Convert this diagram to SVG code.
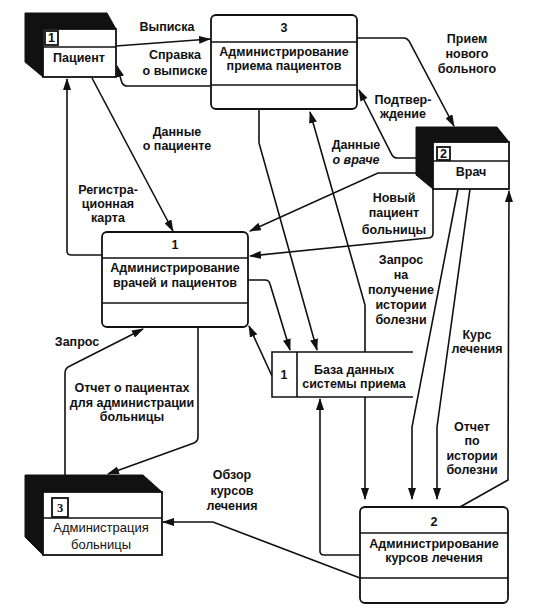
<svg xmlns="http://www.w3.org/2000/svg" width="533" height="615" viewBox="0 0 533 615">
<defs>
<marker id="arr" markerUnits="userSpaceOnUse" markerWidth="12" markerHeight="8" refX="11" refY="4" orient="auto">
<path d="M0,0 L12,4 L0,8 Z" fill="#111"/>
</marker>
<style>
.box{fill:#fff;stroke:#111;stroke-width:1.8}
.sep{stroke:#111;stroke-width:1.6;fill:none}
.shade{fill:#111;stroke:#111;stroke-width:1}
.c{fill:none;stroke:#111;stroke-width:1.6;marker-end:url(#arr)}
text{font-family:"Liberation Sans",Arial,sans-serif;font-size:12.5px;font-weight:bold;fill:#111;text-anchor:middle}
.it{font-style:italic}
.reg{font-weight:normal;font-size:13px}
.num{font-family:"Liberation Serif","Times New Roman",serif}
</style>
</defs>
<rect width="533" height="615" fill="#fff"/>

<g id="connectors">
<path class="c" d="M116,46 L210,39"/>
<path class="c" d="M211,86 L127,86 Q124,86 122,83 L117,66"/>
<path class="c" d="M92,78 L173,231"/>
<path class="c" d="M102,255 L71,255 Q67,255 67,251 L67,79"/>
<path class="c" d="M357,38 L404,38 Q407,38 409,41 L454,126"/>
<path class="c" d="M416,158 L397,158 Q394,158 392,155 L359,90"/>
<path class="c" d="M365,352 L365,305 L310,112"/>
<path class="c" d="M365,397 L365,499"/>
<path class="c" d="M259,109 L259,143 L317,350"/>
<path class="c" d="M248,280 L265,280 Q269,280 270,284 L290,350"/>
<path class="c" d="M272,376 L249,326"/>
<path class="c" d="M416,173 L378,173 L250,231"/>
<path class="c" d="M433,189 L433,233 Q433,238 428,238 L250,256"/>
<path class="c" d="M458,189 L412,427 L412,499"/>
<path class="c" d="M470,189 L437,427 L437,499"/>
<path class="c" d="M460,507 L508,480 L509,191"/>
<path class="c" d="M360,555 L324,555 Q320,555 320,551 L320,399"/>
<path class="c" d="M360,578 L213,522 L163,522"/>
<path class="c" d="M65,475 L65,373 Q65,368 70,366 L143,329"/>
<path class="c" d="M198,327 L198,437 Q198,441 194,443 L108,474"/>
</g>

<g id="labels">
<text x="167" y="31">Выписка</text>
<text x="175" y="59">Справка</text>
<text x="175" y="75">о выписке</text>
<text x="177" y="136">Данные</text>
<text x="177" y="150">о пациенте</text>
<text x="108" y="194">Регистра-</text>
<text x="108" y="208">ционная</text>
<text x="108" y="222">карта</text>
<text x="467" y="43">Прием</text>
<text x="467" y="58">нового</text>
<text x="467" y="73">больного</text>
<text x="403" y="104">Подтвер-</text>
<text x="403" y="118">ждение</text>
<text x="356" y="149">Данные</text>
<text x="356" y="164" class="it">о враче</text>
<text x="394" y="202">Новый</text>
<text x="394" y="217">пациент</text>
<text x="394" y="234">больницы</text>
<text x="401" y="264">Запрос</text>
<text x="401" y="279">на</text>
<text x="401" y="294">получение</text>
<text x="401" y="309">истории</text>
<text x="401" y="324">болезни</text>
<text x="477" y="339">Курс</text>
<text x="477" y="353">лечения</text>
<text x="472" y="431">Отчет</text>
<text x="472" y="445">по</text>
<text x="472" y="460">истории</text>
<text x="472" y="474">болезни</text>
<text x="77" y="346">Запрос</text>
<text x="132" y="392">Отчет о пациентах</text>
<text x="132" y="407">для администрации</text>
<text x="132" y="421">больницы</text>
<text x="232" y="479">Обзор</text>
<text x="232" y="495">курсов</text>
<text x="232" y="510">лечения</text>
</g>

<g id="patient">
<path class="shade" d="M25,13 L107,13 L116,29 L43,29 L43,77 L25,62 Z"/>
<rect class="box" x="43" y="29" width="73" height="48"/>
<line class="sep" x1="43" y1="47" x2="116" y2="47"/>
<rect class="box" x="45" y="31" width="13" height="14" stroke-width="1.4"/>
<text x="51.5" y="42" font-size="11">1</text>
<text x="79" y="62">Пациент</text>
</g>

<g id="proc3">
<rect class="box" x="211" y="15" width="146" height="94" rx="5"/>
<line class="sep" x1="211" y1="42" x2="357" y2="42"/>
<line class="sep" x1="211" y1="85" x2="357" y2="85"/>
<text x="284" y="32">3</text>
<text x="284" y="56">Администрирование</text>
<text x="284" y="70">приема пациентов</text>
</g>

<g id="doctor">
<path class="shade" d="M416,127 L497,127 L509,142 L433,142 L433,189 L416,175 Z"/>
<rect class="box" x="433" y="142" width="76" height="47"/>
<line class="sep" x1="433" y1="161" x2="509" y2="161"/>
<rect class="box" x="437" y="147" width="13" height="13" stroke-width="1.4"/>
<text x="443.5" y="158" font-size="11">2</text>
<text x="471" y="176">Врач</text>
</g>

<g id="proc1">
<rect class="box" x="102" y="232" width="146" height="95" rx="5"/>
<line class="sep" x1="102" y1="258" x2="248" y2="258"/>
<line class="sep" x1="102" y1="303" x2="248" y2="303"/>
<text x="175" y="249">1</text>
<text x="175" y="272">Администрирование</text>
<text x="175" y="287">врачей и пациентов</text>
</g>

<g id="store1">
<rect x="272" y="352" width="141" height="45" fill="#fff"/>
<path class="sep" d="M413,352 L272,352 L272,397 L413,397" stroke-width="1.8"/>
<line class="sep" x1="297" y1="352" x2="297" y2="397"/>
<text x="284" y="379">1</text>
<text x="354" y="374">База данных</text>
<text x="354" y="388">системы приема</text>
</g>

<g id="admin">
<path class="shade" d="M25,475 L143,475 L162,492 L43,492 L43,555 L25,537 Z"/>
<rect class="box" x="43" y="492" width="119" height="63"/>
<line class="sep" x1="43" y1="518" x2="162" y2="518"/>
<rect class="box" x="52" y="498" width="16" height="19" stroke-width="1.4"/>
<text x="60" y="512" class="num" font-size="12">3</text>
<text x="101" y="532" class="reg">Администрация</text>
<text x="101" y="549" class="reg">больницы</text>
</g>

<g id="proc2">
<rect class="box" x="360" y="507" width="148" height="96" rx="5"/>
<line class="sep" x1="360" y1="533" x2="508" y2="533"/>
<line class="sep" x1="360" y1="578" x2="508" y2="578"/>
<text x="434" y="526">2</text>
<text x="434" y="548">Администрирование</text>
<text x="434" y="562">курсов лечения</text>
</g>
</svg>
